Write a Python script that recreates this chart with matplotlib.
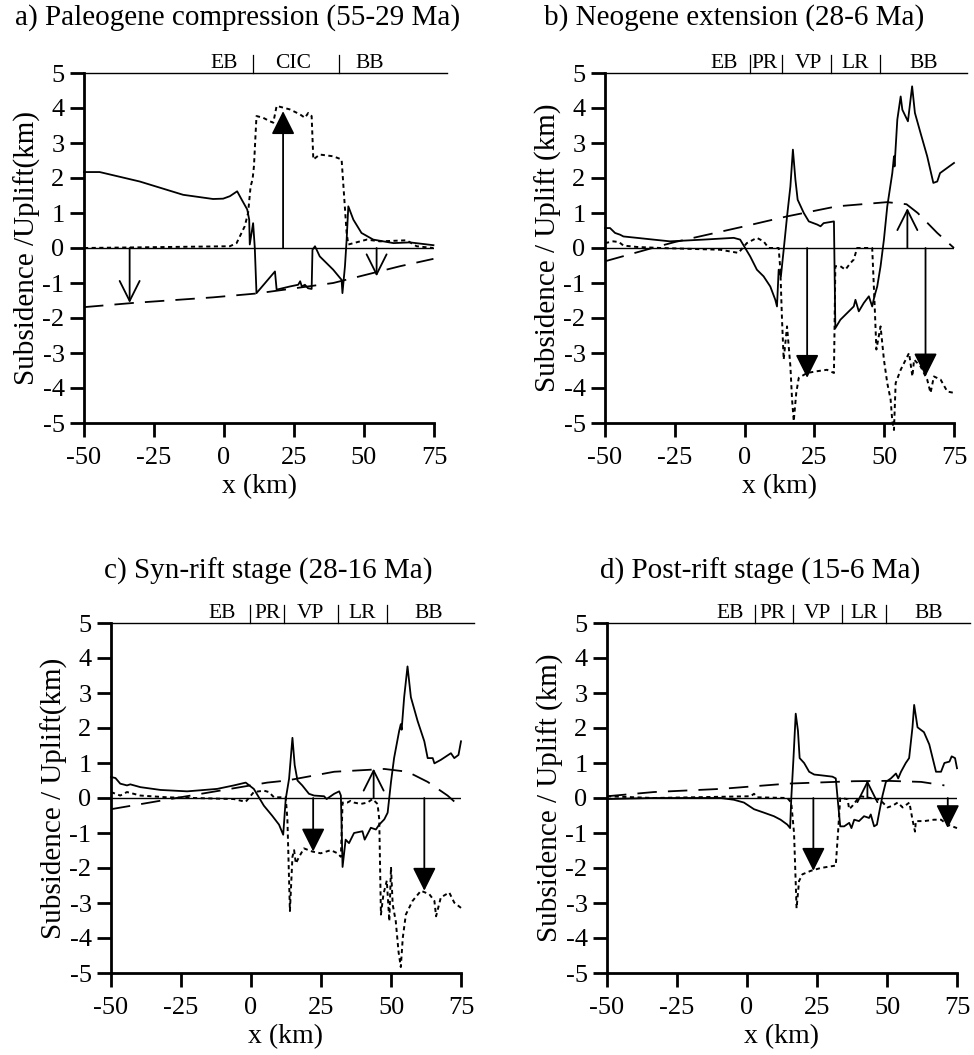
import matplotlib
matplotlib.use('Agg')
import matplotlib.pyplot as plt

plt.rcParams['font.family'] = ['Liberation Serif', 'DejaVu Serif']
plt.rcParams['axes.unicode_minus'] = False
plt.rcParams['lines.scale_dashes'] = False

# ---- panel a: Paleogene compression ----
a_solid_x = [-50, -44.4, -30.1, -14.6, -3.9, -0.3, 2.1, 4.7, 6.2, 8.3, 9.0, 9.2, 10.4, 11.0, 11.6,
             18.2, 18.8, 23.5, 26.5, 27.2, 27.8, 28.9, 30.0, 31.3, 31.6, 32.5, 34.2, 36.6, 39.0,
             42.0, 42.3, 43.2, 43.8, 44.4, 46.2, 49.1, 53.3, 60.5, 66.4, 74.8]
a_solid_y = [2.17, 2.17, 1.90, 1.52, 1.40, 1.41, 1.48, 1.62, 1.40, 1.10, 0.81, 0.10, 0.71, 0.0, -1.29,
             -0.67, -1.19, -1.10, -1.05, -0.95, -1.10, -1.05, -1.15, -1.17, -0.05, 0.05, -0.24, -0.43, -0.62,
             -0.91, -1.29, -0.52, 0.24, 1.19, 0.81, 0.43, 0.24, 0.14, 0.16, 0.08]
a_dot_x = [-50, 2.1, 4.5, 7.4, 8.6, 9.5, 10.2, 10.7, 11.6, 14.0, 16.4, 17.6, 18.8, 23.5, 27.1, 28.9,
           30.1, 31.3, 31.9, 34.2, 39.0, 42.0, 42.9, 43.8, 44.4, 51.0, 55.7, 65.2, 68.8, 74.8]
a_dot_y = [0.0, 0.05, 0.14, 0.62, 1.0, 1.76, 1.96, 2.34, 3.77, 3.72, 3.62, 3.58, 4.06, 3.96, 3.82, 3.72,
           3.86, 3.77, 2.53, 2.67, 2.62, 2.53, 1.48, 0.43, 0.10, 0.24, 0.19, 0.22, 0.05, 0.0]
a_dash_x = [-50, -32.5, -3.9, 11.6, 39.0, 62.9, 74.8]
a_dash_y = [-1.69, -1.57, -1.41, -1.30, -1.00, -0.52, -0.31]
a_arrows = [(-33.7, -1.57, 'open'), (21.1, 3.91, 'filled'), (54.5, -0.81, 'open')]
a_labels = ['EB', 'CIC', 'BB']
a_label_x = [0.0, 24.7, 52.0]
a_seps = [10.4, 41.0]

# ---- panel b: Neogene extension ----
b_solid_x = [-50, -48.2, -46.4, -44.6, -43.4, -38.6, -32.7, -26.7, -14.7, -3.9, -1.6, 0.2, 2.0, 4.4,
             6.8, 9.2, 11.0, 11.6, 12.2, 13.0, 14.0, 15.2, 16.4, 17.3, 18.2, 19.0, 21.2, 23.0, 26.0,
             27.2, 28.3, 32.0, 32.5, 34.3, 36.7, 39.1, 39.7, 40.9, 42.7, 44.5, 45.7, 46.5, 47.5, 48.7,
             49.9, 51.1, 52.9, 53.5, 53.7, 54.7, 55.9, 56.5, 58.5, 60.0, 61.0, 63.0, 65.4, 67.6, 69.0,
             70.0, 75.0]
b_solid_y = [0.57, 0.57, 0.43, 0.38, 0.33, 0.29, 0.24, 0.19, 0.24, 0.29, 0.24, 0.0, -0.24, -0.62,
             -0.81, -1.10, -1.48, -1.67, -0.62, -0.81, -0.05, 0.90, 1.76, 2.81, 1.95, 1.38, 1.00, 0.76, 0.67,
             0.62, 0.71, 0.76, -2.29, -2.05, -1.86, -1.67, -1.48, -1.81, -1.57, -1.38, -1.67, -1.38, -1.10, -0.52,
             0.24, 1.19, 2.14, 2.62, 2.33, 3.67, 4.33, 3.95, 3.62, 4.62, 3.86, 3.29, 2.62, 1.86, 1.90,
             2.14, 2.43]
b_dot_x = [-50, -47, -45, -43.4, -38.6, -30, -8.7, -2.2, 0.8, 4.4, 6.8, 8.6, 12.2, 12.8, 13.4, 14.0,
           15.2, 15.8, 16.4, 17.0, 17.6, 18.5, 19.4, 22.4, 26.0, 29.5, 32.0, 32.5, 34.3, 36.1, 37.9,
           39.1, 40.3, 45.7, 46.5, 47.2, 48.7, 49.9, 51.1, 52.3, 52.9, 53.5, 54.1, 55.9, 58.9, 60.1,
           60.7, 63.0, 65.4, 66.6, 67.8, 70.2, 72.6, 75.0]
b_dot_y = [0.14, 0.19, 0.17, 0.07, 0.03, 0.0, -0.05, -0.14, 0.14, 0.29, 0.19, 0.0, 0.0, -0.62, -2.05, -3.19,
           -2.24, -2.81, -3.38, -4.33, -4.95, -4.14, -3.71, -3.57, -3.52, -3.48, -3.57, -0.52, -0.52, -0.62, -0.43,
           -0.33, 0.0, 0.0, -1.48, -2.90, -2.24, -3.19, -3.86, -4.33, -4.95, -5.2, -3.86, -3.48, -3.00, -3.67,
           -3.19, -3.38, -3.76, -4.14, -3.67, -3.76, -4.10, -4.14]
b_dash_x = [-50, -33, -25, 0, 15, 33, 51, 58, 62, 69, 75]
b_dash_y = [-0.38, 0.0, 0.17, 0.62, 0.90, 1.19, 1.31, 1.25, 1.00, 0.43, 0.0]
b_arrows = [(22.4, -3.71, 'filled'), (58.3, 1.14, 'open'), (64.8, -3.67, 'filled')]
b_labels = ['EB', 'PR', 'VP', 'LR', 'BB']
b_label_x = [-7.4, 7.3, 23.0, 39.5, 64.0]
b_seps = [2.0, 13.4, 31.0, 48.5]

# ---- panel c: Syn-rift stage ----
c_solid_x = [-50, -48.4, -46.7, -44.3, -43.1, -39.5, -32.3, -22.8, -12.1, -6.1, -1.9, 1.0, 2.8, 4.6,
             7.6, 10.0, 11.5, 12.4, 13.6, 14.8, 15.6, 16.6, 18.3, 20.7, 22.5, 26.1, 27.0, 29.7, 31.5,
             32.1, 32.7, 33.8, 35.0, 36.8, 39.8, 40.6, 42.8, 44.6, 45.8, 47.6, 48.8, 50.0, 51.1, 52.9,
             53.5, 53.8, 54.7, 55.9, 57.1, 59.5, 61.9, 63.1, 64.9, 65.5, 67.8, 71.4, 72.6, 74.1, 75.0]
c_solid_y = [0.60, 0.57, 0.41, 0.36, 0.39, 0.31, 0.23, 0.19, 0.26, 0.36, 0.44, 0.26, 0.02, -0.22,
             -0.51, -0.76, -1.05, -0.03, 0.55, 1.72, 0.94, 0.50, 0.36, 0.12, 0.07, 0.05, -0.03, 0.12, 0.19,
             0.07, -1.97, -1.19, -1.29, -1.00, -0.95, -1.19, -0.85, -0.90, -0.76, -0.61, -0.42, 0.46, 1.14, 1.91,
             2.11, 1.95, 2.88, 3.76, 2.88, 2.20, 1.62, 1.14, 1.14, 0.99, 1.09, 1.28, 1.14, 1.23, 1.62]
c_dot_x = [-50, -46.7, -44.3, -39.5, -30, -6.1, -1.9, 1.0, 4.6, 6.4, 8.2, 12.4, 13.0, 13.9, 14.8,
           15.4, 16.0, 17.2, 18.9, 21.9, 24.9, 28.5, 30.9, 32.1, 32.7, 34.4, 35.6, 36.8, 39.2, 41.6,
           43.4, 45.2, 45.8, 46.4, 47.3, 48.5, 49.4, 50.0, 50.6, 51.7, 52.7, 53.5, 54.2, 55.3, 57.7,
           60.7, 63.7, 65.5, 66.1, 67.8, 70.8, 72.6, 75.0]
c_dot_y = [0.17, 0.07, 0.17, 0.07, 0.02, -0.03, -0.11, 0.17, 0.21, 0.17, 0.02, 0.02, -0.61, -3.23, -1.68,
           -1.49, -1.87, -1.68, -1.44, -1.53, -1.58, -1.49, -1.58, -1.68, -0.13, -0.13, -0.08, -0.13, -0.17, -0.13,
           -0.03, -0.17, -0.61, -3.33, -2.75, -2.36, -3.52, -1.97, -3.04, -3.52, -4.40, -4.83, -4.00, -3.33, -2.94,
           -2.65, -2.75, -2.94, -3.38, -2.84, -2.70, -2.99, -3.14]
c_dash_x = [-50, -25.2, 5.8, 12.9, 29.7, 47.6, 55.9, 63.1, 70.2, 75.0]
c_dash_y = [-0.32, 0.02, 0.44, 0.50, 0.75, 0.83, 0.75, 0.46, 0.07, -0.27]
c_arrows = [(22.2, -1.53, 'filled'), (43.8, 0.84, 'open'), (61.9, -2.65, 'filled')]
c_labels = ['EB', 'PR', 'VP', 'LR', 'BB']
c_label_x = [-10.2, 5.8, 21.3, 39.8, 63.6]
c_seps = [-0.2, 11.7, 31.0, 48.5]

# ---- panel d: Post-rift stage ----
d_solid_x = [-50, -33.3, -9.4, -4.7, -1.1, 2.5, 6.1, 9.6, 12.0, 14.4, 15.4, 15.8, 16.6, 17.4, 18.2,
             18.8, 20.4, 22.2, 24.0, 26.3, 30.5, 31.7, 32.5, 33.3, 34.7, 36.5, 37.3, 38.3, 40.0, 41.8,
             43.6, 44.2, 45.4, 46.4, 47.2, 48.4, 49.6, 51.4, 53.2, 54.0, 55.0, 56.7, 57.9, 59.1, 59.7,
             60.9, 63.2, 65.1, 67.5, 69.3, 70.5, 72.3, 73.1, 74.3, 75.0]
d_solid_y = [-0.03, 0.0, 0.0, -0.05, -0.13, -0.32, -0.42, -0.52, -0.62, -0.76, -0.86, -0.03, 1.14, 2.41, 1.92,
             1.14, 1.00, 0.75, 0.67, 0.65, 0.61, 0.56, -0.13, -0.81, -0.81, -0.71, -0.86, -0.62, -0.66, -0.52,
             -0.57, -0.47, -0.81, -0.76, -0.42, 0.07, 0.46, 0.56, 0.70, 0.56, 0.75, 1.00, 1.14, 2.02, 2.66,
             2.02, 1.88, 1.53, 0.75, 0.75, 1.00, 1.04, 1.19, 1.14, 0.85]
d_dot_x = [-50, -33.3, 1.3, 2.5, 3.7, 14.4, 15.8, 16.8, 17.7, 18.6, 19.8, 22.8, 26.3, 31.7, 32.5, 33.3,
           35.9, 36.5, 37.7, 39.5, 40.7, 44.0, 47.5, 50.2, 52.0, 53.8, 55.6, 58.0, 59.1, 60.0, 60.3,
           63.3, 66.8, 69.3, 71.6, 75.0]
d_dot_y = [0.05, 0.0, 0.05, 0.12, 0.02, 0.0, -0.13, -1.00, -3.15, -2.37, -2.18, -2.08, -2.00, -1.93, -1.00, 0.0,
           -0.03, -0.32, -0.22, -0.03, 0.05, 0.0, -0.05, -0.27, -0.22, -0.13, -0.27, -0.13, -0.62, -0.96, -0.66,
           -0.66, -0.62, -0.62, -0.76, -0.86]
d_dash_x = [-50, -33.3, -9.4, 14.4, 38.3, 50.2, 62.2, 70.5]
d_dash_y = [0.05, 0.17, 0.26, 0.41, 0.48, 0.49, 0.46, 0.36]
d_arrows = [(23.7, -2.08, 'filled'), (43.0, 0.51, 'open'), (71.7, -0.86, 'filled')]
d_labels = ['EB', 'PR', 'VP', 'LR', 'BB']
d_label_x = [-6.0, 9.0, 25.2, 41.7, 65.0]
d_seps = [3.0, 16.3, 33.8, 49.6]

fig = plt.figure(figsize=(9.74, 10.55), dpi=100)
W, H = 974, 1055


def make_axes(left, right, top, bottom):
    return fig.add_axes([left / W, 1 - bottom / H, (right - left) / W, (bottom - top) / H])


def draw(ax, sx, sy, px, py, dx, dy, arrows, labels, label_x, seps, ylabel):
    ax.plot(sx, sy, color='black', lw=1.3, clip_on=False)
    ax.plot(px, py, color='black', lw=1.4, dashes=(3, 2.5), clip_on=False)
    ax.plot(dx, dy, color='black', lw=1.3, dashes=(14, 8), clip_on=False)
    ax.axhline(0, color='black', lw=1.0)
    # top line, running a little past the axes
    ax.plot([-50, 79.5], [5, 5], color='black', lw=1.0, clip_on=False)

    for x, tip, kind in arrows:
        style = '-|>' if kind == 'filled' else '->'
        ax.annotate('', xy=(x, tip), xytext=(x, 0),
                    arrowprops=dict(arrowstyle=style, color='black', lw=1.3,
                                    mutation_scale=36, shrinkA=0, shrinkB=0))

    for lab, x in zip(labels, label_x):
        ax.text(x, 5.14, lab, ha='center', va='baseline', fontsize=15.5)
    for x in seps:
        ax.plot([x, x], [5, 5.52], color='black', lw=0.9, clip_on=False)

    ax.set_xlim(-50, 75)
    ax.set_ylim(-5, 5)
    ax.set_xticks([-50, -25, 0, 25, 50, 75])
    ax.set_yticks(range(-5, 6))
    ax.spines['top'].set_visible(False)
    ax.spines['right'].set_visible(False)
    ax.spines['left'].set_linewidth(2)
    ax.spines['bottom'].set_linewidth(2)
    ax.tick_params(direction='out', length=10, width=2, labelsize=19)
    ax.tick_params(axis='x', pad=7)
    ax.tick_params(axis='y', pad=4)
    ax.set_xlabel('x (km)', fontsize=20, labelpad=4)
    ax.set_ylabel(ylabel, fontsize=21, labelpad=1)


ax_a = make_axes(84, 434, 73, 423)
ax_b = make_axes(605, 954, 73, 423)
ax_c = make_axes(111, 461, 623, 973)
ax_d = make_axes(607, 957, 623, 973)

draw(ax_a, a_solid_x, a_solid_y, a_dot_x, a_dot_y, a_dash_x, a_dash_y,
     a_arrows, a_labels, a_label_x, a_seps, 'Subsidence /Uplift(km)')
draw(ax_b, b_solid_x, b_solid_y, b_dot_x, b_dot_y, b_dash_x, b_dash_y,
     b_arrows, b_labels, b_label_x, b_seps, 'Subsidence / Uplift (km)')
draw(ax_c, c_solid_x, c_solid_y, c_dot_x, c_dot_y, c_dash_x, c_dash_y,
     c_arrows, c_labels, c_label_x, c_seps, 'Subsidence / Uplift(km)')
draw(ax_d, d_solid_x, d_solid_y, d_dot_x, d_dot_y, d_dash_x, d_dash_y,
     d_arrows, d_labels, d_label_x, d_seps, 'Subsidence / Uplift (km)')

fig.text(238 / W, 1 - 18 / H, 'a) Paleogene compression (55-29 Ma)', ha='center', va='center', fontsize=21)
fig.text(734 / W, 1 - 18 / H, 'b) Neogene extension (28-6 Ma)', ha='center', va='center', fontsize=21)
fig.text(268 / W, 1 - 571 / H, 'c) Syn-rift stage (28-16 Ma)', ha='center', va='center', fontsize=21)
fig.text(760 / W, 1 - 571 / H, 'd) Post-rift stage (15-6 Ma)', ha='center', va='center', fontsize=21)

fig.savefig('out.png', dpi=100)
